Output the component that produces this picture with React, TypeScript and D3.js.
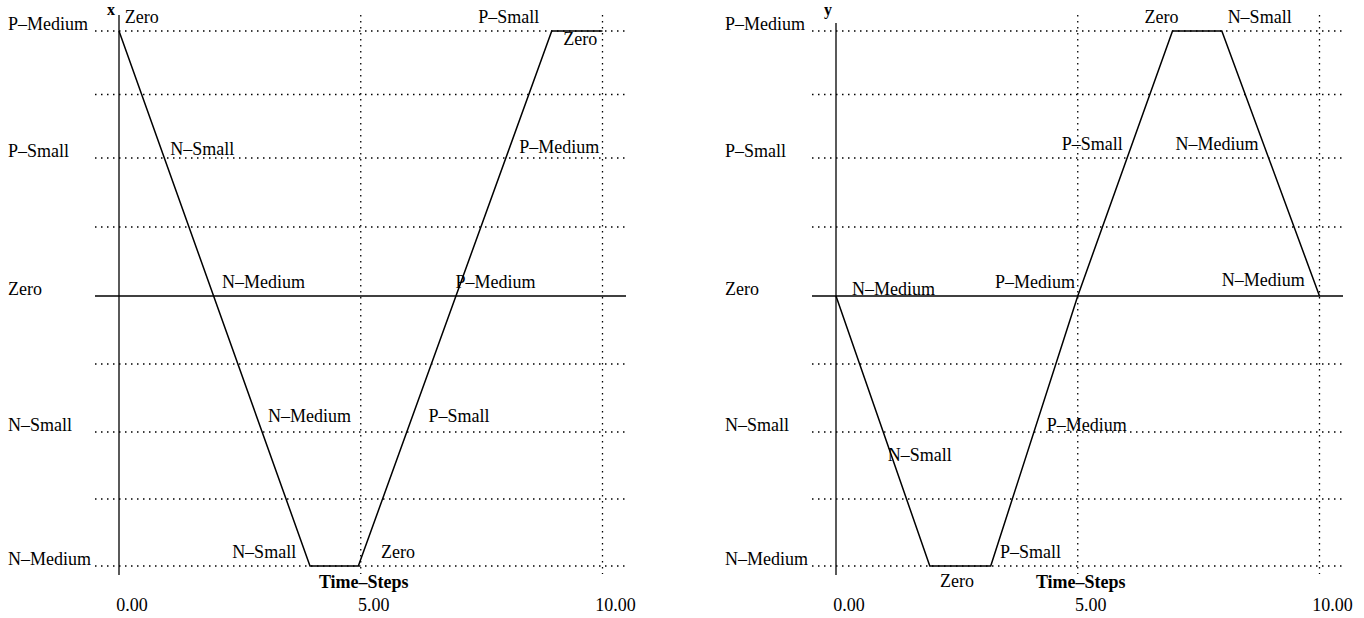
import React from "react";
import { scaleLinear, line } from "d3";

// fuzzy levels (y values -2..2) and time ticks
const levelNames = ["N–Medium", "N–Small", "Zero", "P–Small", "P–Medium"];
const levelValues = [-2, -1, 0, 1, 2];
const gridValues = [-2, -1.5, -1, -0.5, 0.5, 1, 1.5, 2];
const xTicks = [0, 5, 10];
const xTickLabels = ["0.00", "5.00", "10.00"];
const vGridTicks = [5, 10];

// series x
const xTimes = [0, 3.95, 4.95, 8.95, 10];
const xValues = [2, -2, -2, 2, 2];
// series y
const yTimes = [0, 1.94, 3.2, 5, 6.96, 7.98, 10];
const yValues = [0, -2, -2, 0, 2, 2, 0];

// labels along the curves: [time, value, text]
const xNotes: [number, number, string][] = [
  [0.12, 2.06, "Zero"],
  [1.06, 1.02, "N–Small"],
  [2.13, 0.06, "N–Medium"],
  [3.08, -0.93, "N–Medium"],
  [2.34, -1.94, "N–Small"],
  [5.42, -1.94, "Zero"],
  [6.4, -0.93, "P–Small"],
  [6.96, 0.06, "P–Medium"],
  [8.28, 1.04, "P–Medium"],
  [7.43, 2.06, "P–Small"],
  [9.19, 1.89, "Zero"],
];
const yNotes: [number, number, string][] = [
  [0.33, 0.01, "N–Medium"],
  [1.07, -1.22, "N–Small"],
  [2.15, -2.16, "Zero"],
  [3.39, -1.94, "P–Small"],
  [4.36, -0.99, "P–Medium"],
  [3.29, 0.06, "P–Medium"],
  [4.67, 1.06, "P–Small"],
  [6.38, 2.06, "Zero"],
  [8.1, 2.06, "N–Small"],
  [7.02, 1.06, "N–Medium"],
  [7.98, 0.07, "N–Medium"],
];

const font = "'Liberation Serif', 'Times New Roman', Times, 'DejaVu Serif', serif";

const yScale = scaleLinear()
  .domain([-2, -1, 0, 1, 2])
  .range([566, 432, 296, 158, 31]);

type PanelProps = {
  left: number;
  axisX: number;
  axisTop: number;
  name: string;
  times: number[];
  values: number[];
  notes: [number, number, string][];
};

const T = (props: React.SVGProps<SVGTextElement>) => (
  <text fontFamily={font} fontSize={18} fill="#000" {...props} style={{ fontFamily: font }} />
);

const Panel = ({ left, axisX, axisTop, name, times, values, notes }: PanelProps) => {
  const xScale = scaleLinear().domain([0, 10]).range([axisX, axisX + 483.5]);
  const gx1 = axisX - 24;
  const gx2 = axisX + 507;

  const path = line<number>()
    .x((d, i) => xScale(times[i]))
    .y((d) => yScale(d))(values);

  return (
    <g>
      {levelNames.map((n, i) => (
        <T key={n} x={left} y={yScale(levelValues[i]) - 1}>
          {n}
        </T>
      ))}
      {gridValues.map((v) => (
        <line
          key={v}
          x1={gx1}
          x2={gx2}
          y1={yScale(v)}
          y2={yScale(v)}
          stroke="#000"
          strokeWidth={1.3}
          strokeDasharray="1.5,4.5"
        />
      ))}
      <line x1={gx1} x2={gx2} y1={yScale(0)} y2={yScale(0)} stroke="#000" strokeWidth={1.3} />
      {vGridTicks.map((t) => (
        <line
          key={t}
          x1={xScale(t)}
          x2={xScale(t)}
          y1={15}
          y2={574}
          stroke="#000"
          strokeWidth={1.3}
          strokeDasharray="1.5,4.5"
        />
      ))}
      <line x1={axisX} x2={axisX} y1={axisTop} y2={575} stroke="#000" strokeWidth={1.3} />
      <T x={axisX - 4} y={15} fontSize={16} fontWeight="bold" textAnchor="end">
        {name}
      </T>
      <path d={path ?? ""} fill="none" stroke="#000" strokeWidth={1.5} />
      {notes.map(([t, v, s], i) => (
        <T key={i} x={xScale(t)} y={yScale(v)}>
          {s}
        </T>
      ))}
      <T x={xScale(5) + 3} y={588} fontWeight="bold" textAnchor="middle">
        Time–Steps
      </T>
      {xTicks.map((t, i) => (
        <T key={t} x={xScale(t) + 13} y={611} textAnchor="middle">
          {xTickLabels[i]}
        </T>
      ))}
    </g>
  );
};

export default function App() {
  return (
    <svg
      width={1364}
      height={618}
      style={{ position: "absolute", left: 0, top: 0, background: "#fff" }}
    >
      <rect width={1364} height={618} fill="#fff" />
      <Panel left={8} axisX={119} axisTop={15} name="x" times={xTimes} values={xValues} notes={xNotes} />
      <Panel left={725} axisX={836} axisTop={23} name="y" times={yTimes} values={yValues} notes={yNotes} />
    </svg>
  );
}
